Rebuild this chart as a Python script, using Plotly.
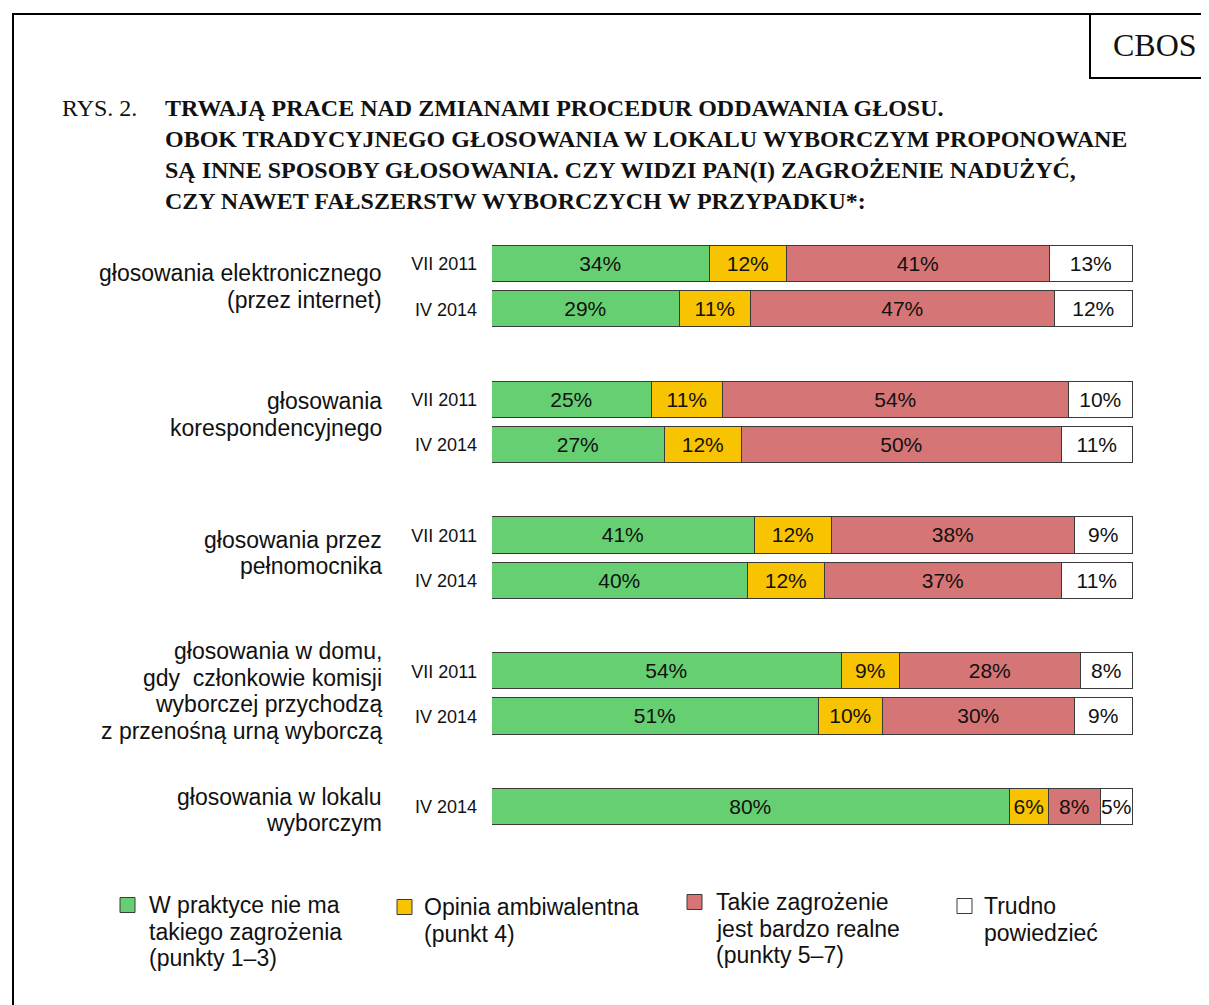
import plotly.graph_objects as go

W, H = 1209, 1005

# ---------------- data ----------------
group_labels = [
    ["głosowania elektronicznego", "(przez internet)"],
    ["głosowania", "korespondencyjnego"],
    ["głosowania przez", "pełnomocnika"],
    ["głosowania w domu,", "gdy\u00a0 członkowie komisji", "wyborczej przychodzą", "z przenośną urną wyborczą"],
    ["głosowania w lokalu", "wyborczym"],
]
group_waves = [
    ["VII 2011", "IV 2014"],
    ["VII 2011", "IV 2014"],
    ["VII 2011", "IV 2014"],
    ["VII 2011", "IV 2014"],
    ["IV 2014"],
]

no_threat   = [34, 29, 25, 27, 41, 40, 54, 51, 80]
ambivalent  = [12, 11, 11, 12, 12, 12,  9, 10,  6]
real_threat = [41, 47, 54, 50, 38, 37, 28, 30,  8]
hard_to_say = [13, 12, 10, 11,  9, 11,  8,  9,  5]

series_names = [
    ["W praktyce nie ma", "takiego zagrożenia", "(punkty 1–3)"],
    ["Opinia ambiwalentna", "(punkt 4)"],
    ["Takie zagrożenie", "jest bardzo realne", "(punkty 5–7)"],
    ["Trudno", "powiedzieć"],
]
series_values = [no_threat, ambivalent, real_threat, hard_to_say]
series_colors = ["#66CF72", "#F8C300", "#D67575", "#FFFFFF"]

title_prefix = "RYS. 2."
title_lines = [
    "TRWAJĄ PRACE NAD ZMIANAMI PROCEDUR ODDAWANIA GŁOSU.",
    "OBOK TRADYCYJNEGO GŁOSOWANIA W LOKALU WYBORCZYM PROPONOWANE",
    "SĄ INNE SPOSOBY GŁOSOWANIA. CZY WIDZI PAN(I) ZAGROŻENIE NADUŻYĆ,",
    "CZY NAWET FAŁSZERSTW WYBORCZYCH W PRZYPADKU*:",
]
source_label = "CBOS"

# ---------------- layout helpers ----------------
SANS = "Liberation Sans, Arial, sans-serif"
SERIF = "Liberation Serif, Times New Roman, serif"
EDGE = "#3a3a3a"
INK = "#111111"
OFF = 8  # page margin of the browser body

def px(x):
    return (x - OFF) / W

def py(y):
    return 1 - (y - OFF) / H

# y positions: 3 units per group, 1 unit between waves
ypos, yticks, group_centers = [], [], []
for gi, waves in enumerate(group_waves):
    pos = [3 * gi + j for j in range(len(waves))]
    ypos += pos
    yticks += waves
    group_centers.append(sum(pos) / len(pos))

unit = 45.25          # pixels per y unit
first_px = 264        # page pixel of first bar centre
y_top = -(first_px - OFF) / unit
y_bot = (H - (first_px - OFF)) / unit

fig = go.Figure()
for name, vals, col in zip(series_names, series_values, series_colors):
    fig.add_trace(go.Bar(
        orientation="h",
        x=vals,
        y=ypos,
        width=0.8,
        name=" ".join(name),
        marker=dict(color=col, line=dict(color=EDGE, width=1.5)),
        text=[f"{v}%" for v in vals],
        textposition="inside",
        insidetextanchor="middle",
        textangle=0,
        textfont=dict(family=SANS, size=21, color=INK),
        hoverinfo="skip",
        showlegend=False,
    ))

annotations = []
shapes = []

def text_line(x, y, txt, size, family=SANS, anchor="left"):
    annotations.append(dict(
        x=px(x), y=py(y), xref="paper", yref="paper", text=txt,
        showarrow=False, xanchor=anchor, yanchor="middle",
        font=dict(family=family, size=size, color=INK),
    ))

# group labels (right aligned, one annotation per line)
LS = 26.5
label_shift = [0, -8, -5, -3, 3]
for lines, c, sh in zip(group_labels, group_centers, label_shift):
    cpx = first_px + unit * c + sh
    n = len(lines)
    for k, ln in enumerate(lines):
        text_line(384, cpx + (k - (n - 1) / 2) * LS, ln, 23, anchor="right")

# title
text_line(60, 108, title_prefix, 24, family=SERIF)
title_y = [108, 139, 170, 201]
for t, y in zip(title_lines, title_y):
    text_line(163, y, f"<b>{t}</b>", 24, family=SERIF)
text_line(1155, 45, source_label, 32, family=SERIF, anchor="center")

# frame
def seg(x0, y0, x1, y1):
    shapes.append(dict(type="line", xref="paper", yref="paper",
                       x0=px(x0), x1=px(x1), y0=py(y0), y1=py(y1),
                       line=dict(color="#000000", width=2)))

seg(13, 14, 13, H + 20)
seg(12, 14, W + 20, 14)
seg(1090, 14, 1090, 78)
seg(1089, 78, W + 20, 78)

# legend (drawn manually)
leg_box_x = [120, 397, 687, 957]
leg_text_x = [147, 422, 714, 982]
leg_y = [905, 907, 902, 906]
for lines, col, bx, tx, ly in zip(series_names, series_colors, leg_box_x, leg_text_x, leg_y):
    shapes.append(dict(type="rect", xref="paper", yref="paper",
                       x0=px(bx), x1=px(bx + 15), y0=py(ly - 7.5), y1=py(ly + 7.5),
                       fillcolor=col, line=dict(color=EDGE, width=1)))
    for k, ln in enumerate(lines):
        text_line(tx, ly + k * LS, ln, 23)

fig.update_layout(
    width=W, height=H,
    margin=dict(l=0, r=0, t=0, b=0),
    paper_bgcolor="white", plot_bgcolor="white",
    barmode="stack", barnorm="percent",
    bargap=0,
    uniformtext=dict(minsize=21, mode="show"),
    xaxis=dict(domain=[px(492), px(1133)], range=[0, 100], visible=False,
               fixedrange=True),
    yaxis=dict(range=[y_bot, y_top], tickvals=ypos, ticktext=yticks,
               showgrid=False, zeroline=False, showline=False, ticks="",
               ticklabelstandoff=14,
               tickfont=dict(family=SANS, size=18, color=INK),
               fixedrange=True),
    annotations=annotations,
    shapes=shapes,
    showlegend=False,
)

fig.write_html("out.html")
